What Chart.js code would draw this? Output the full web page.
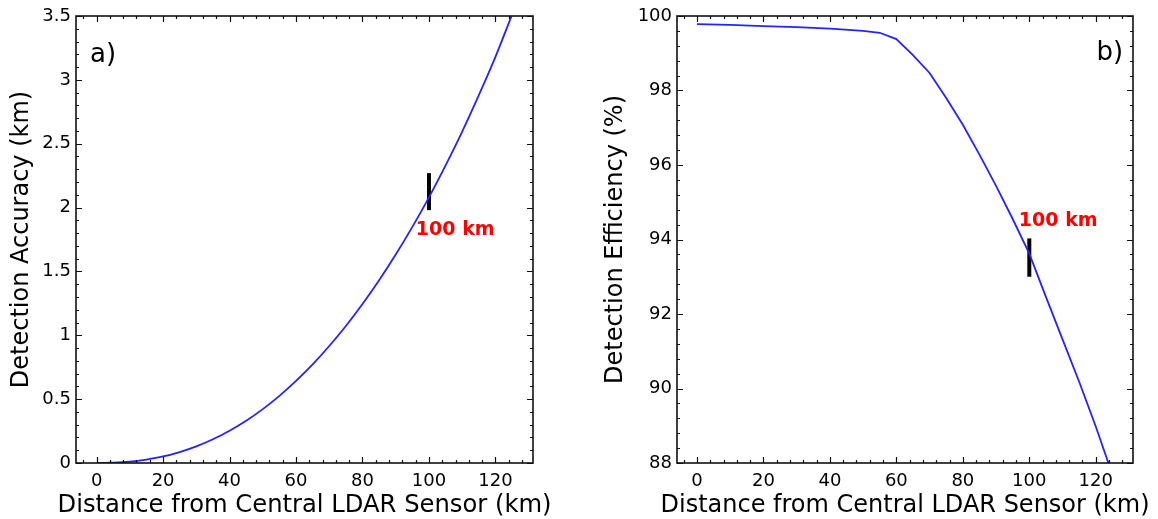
<!DOCTYPE html>
<html>
<head>
<meta charset="utf-8">
<script src="https://cdn.jsdelivr.net/npm/chart.js@4.4.0/dist/chart.umd.min.js"></script>
<style>
  html, body { margin: 0; padding: 0; background: #fff; }
  #wrap { position: relative; width: 1158px; height: 519px; }
  .panel { position: absolute; top: 0; width: 579px; height: 519px; }
</style>
</head>
<body>
<div id="wrap">
  <div class="panel" style="left:0"><canvas id="chartA"></canvas></div>
  <div class="panel" style="left:579px"><canvas id="chartB"></canvas></div>
</div>
<script>
// tick labels
const distTicks = [0, 20, 40, 60, 80, 100, 120];
const accuracyTicks = [0, 0.5, 1, 1.5, 2, 2.5, 3, 3.5];
const efficiencyTicks = [88, 90, 92, 94, 96, 98, 100];

// a) detection accuracy vs distance
const accDist = [0, 5, 10, 15, 20, 25, 30, 35, 40, 45, 50, 55, 60, 65, 70, 75, 80, 85, 90, 95, 100, 105, 110, 115, 120, 125];
const accKm = [0, 0.002, 0.01, 0.027, 0.051, 0.086, 0.13, 0.186, 0.253, 0.331, 0.422, 0.526, 0.643, 0.772, 0.916, 1.073, 1.245, 1.431, 1.632, 1.849, 2.08, 2.33, 2.595, 2.88, 3.18, 3.51];

// b) detection efficiency vs distance
const effDist = [0, 10, 20, 30, 40, 50, 55, 60, 65, 70, 75, 80, 85, 90, 95, 100, 105, 110, 115, 120, 123.8];
const effPct = [99.78, 99.76, 99.73, 99.7, 99.66, 99.6, 99.55, 99.38, 98.95, 98.47, 97.8, 97.08, 96.28, 95.44, 94.55, 93.62, 92.46, 91.32, 90.18, 88.98, 88.0];

// 100 km marker
const markerDist = 100;
const accMarker = [1.98, 2.27];
const effMarker = [93.0, 94.03];
const markerText = '100 km';
const xTitle = 'Distance from Central LDAR Sensor (km)';

Chart.defaults.font.family = 'DejaVu Sans';
Chart.defaults.color = '#000';

const blue = '#2323ff';

function steps(min, max, step) {
  const out = [];
  for (let v = Math.ceil(min / step - 1e-9) * step; v <= max + 1e-9; v += step) out.push(Math.round(v * 1000) / 1000);
  return out;
}

// box around the plot with inward ticks on all four sides, plus the text notes
const framePlugin = {
  id: 'frame',
  afterDatasetsDraw(chart, args, opts) {
    const { ctx, chartArea: a, scales: { x, y } } = chart;
    ctx.save();
    ctx.strokeStyle = '#111';
    ctx.lineWidth = 1.2;
    ctx.beginPath();
    steps(x.min, x.max, opts.xMinor).forEach(v => {
      const px = Math.round(x.getPixelForValue(v)) + 0.5;
      const len = distTicks.includes(v) ? 6 : 3;
      ctx.moveTo(px, a.bottom); ctx.lineTo(px, a.bottom - len);
      ctx.moveTo(px, a.top); ctx.lineTo(px, a.top + len);
    });
    steps(y.min, y.max, opts.yMinor).forEach(v => {
      const py = Math.round(y.getPixelForValue(v)) + 0.5;
      const len = opts.yMajor.includes(v) ? 6 : 3;
      ctx.moveTo(a.left, py); ctx.lineTo(a.left + len, py);
      ctx.moveTo(a.right, py); ctx.lineTo(a.right - len, py);
    });
    ctx.stroke();
    ctx.lineWidth = 1.6;
    ctx.strokeRect(a.left, a.top, a.right - a.left, a.bottom - a.top);

    opts.notes.forEach(n => {
      ctx.font = n.font;
      ctx.fillStyle = n.color;
      ctx.textAlign = n.align;
      ctx.textBaseline = 'middle';
      ctx.fillText(n.text, x.getPixelForValue(n.x), y.getPixelForValue(n.y));
    });

    // x axis title, stretched a little sideways like the original
    ctx.font = '24px "DejaVu Sans"';
    ctx.fillStyle = '#000';
    ctx.textAlign = 'center';
    ctx.textBaseline = 'alphabetic';
    const w = ctx.measureText(xTitle).width;
    ctx.translate((a.left + a.right) / 2, 511.5);
    ctx.scale(opts.titleWidth / w, 1);
    ctx.fillText(xTitle, 0, 0);
    ctx.restore();
  }
};

function makeChart(id, cfg) {
  return new Chart(document.getElementById(id), {
    type: 'line',
    data: {
      datasets: [{
        data: cfg.xs.map((v, i) => ({ x: v, y: cfg.ys[i] })),
        borderColor: blue,
        borderWidth: 1.8,
        pointRadius: 0,
        cubicInterpolationMode: cfg.smooth ? 'monotone' : 'default',
        tension: 0
      }, {
        data: cfg.marker.map(v => ({ x: markerDist, y: v })),
        borderColor: '#000',
        borderWidth: 4,
        borderCapStyle: 'butt',
        pointRadius: 0
      }]
    },
    options: {
      responsive: true,
      maintainAspectRatio: false,
      animation: false,
      layout: { padding: { top: 16, right: cfg.padRight, bottom: 0, left: 0 } },
      plugins: {
        legend: { display: false },
        tooltip: { enabled: false },
        frame: { xMinor: 4, yMinor: cfg.yMinor, yMajor: cfg.yTicks, notes: cfg.notes, titleWidth: cfg.titleWidth }
      },
      scales: {
        x: {
          type: 'linear',
          min: cfg.xMin, max: cfg.xMax,
          afterBuildTicks: s => { s.ticks = distTicks.map(v => ({ value: v })); },
          afterFit: s => { s.height = 56; },
          grid: { display: false, drawTicks: false },
          border: { display: false },
          ticks: { font: { size: 18 }, padding: 8, maxRotation: 0, autoSkip: false, callback: v => String(v) }
        },
        y: {
          type: 'linear',
          min: cfg.yMin, max: cfg.yMax,
          afterBuildTicks: s => { s.ticks = cfg.yTicks.map(v => ({ value: v })); },
          afterFit: s => { s.width = cfg.yWidth; },
          grid: { display: false, drawTicks: false },
          border: { display: false },
          ticks: { font: { size: 18 }, padding: 5, autoSkip: false, callback: v => String(v) },
          title: { display: true, text: cfg.yTitle, font: { size: 24 }, padding: { top: cfg.yTitlePad, bottom: 0 } }
        }
      }
    },
    plugins: [framePlugin]
  });
}

makeChart('chartA', {
  xs: accDist, ys: accKm, smooth: true, marker: accMarker,
  xMin: -6.2, xMax: 131.3, yMin: 0, yMax: 3.5,
  yTicks: accuracyTicks, yMinor: 0.1,
  yWidth: 76, padRight: 46, yTitlePad: 7, titleWidth: 494,
  yTitle: 'Detection Accuracy (km)',
  notes: [
    { x: -2, y: 3.19, text: 'a)', font: '26px "DejaVu Sans"', color: '#000', align: 'left' },
    { x: 107.9, y: 1.82, text: markerText, font: 'bold 19px "DejaVu Sans"', color: '#ff0000', align: 'center' }
  ]
});

makeChart('chartB', {
  xs: effDist, ys: effPct, smooth: false, marker: effMarker,
  xMin: -6, xMax: 131.2, yMin: 88, yMax: 100,
  yTicks: efficiencyTicks, yMinor: 0.4,
  yWidth: 98, padRight: 25, yTitlePad: 22, titleWidth: 489,
  yTitle: 'Detection Efficiency (%)',
  notes: [
    { x: 128.2, y: 99.0, text: 'b)', font: '26px "DejaVu Sans"', color: '#000', align: 'right' },
    { x: 108.7, y: 94.5, text: markerText, font: 'bold 19px "DejaVu Sans"', color: '#ff0000', align: 'center' }
  ]
});
</script>
</body>
</html>
